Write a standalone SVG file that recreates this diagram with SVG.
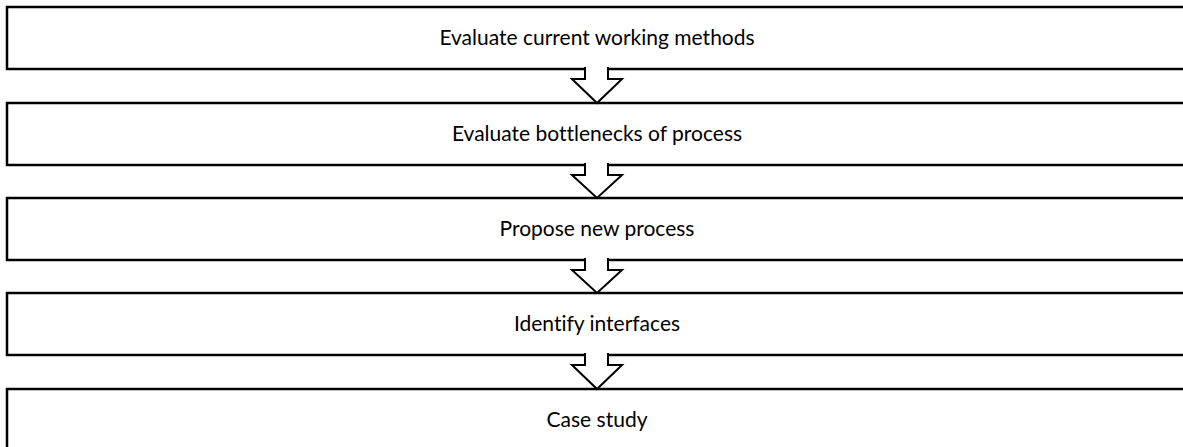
<svg xmlns="http://www.w3.org/2000/svg" width="1183" height="447" viewBox="0 0 1183 447">
  <style>
    .box { fill: #ffffff; stroke: #000000; stroke-width: 2.5; }
    .label { font-family: Lato, "Open Sans", "Liberation Sans", sans-serif; font-size: 21px; fill: #000000; text-anchor: middle; font-variant-ligatures: none; }
    .flow { fill: #ffffff; stroke: #000000; stroke-width: 2; stroke-linejoin: miter; }
  </style>
  <rect width="1183" height="447" fill="#ffffff"/>

  <!-- process steps -->
  <g id="step-evaluate-methods">
    <rect class="box" x="7" y="7" width="1200" height="62"/>
    <text class="label" x="597" y="45">Evaluate current working methods</text>
  </g>
  <g id="step-evaluate-bottlenecks">
    <rect class="box" x="7" y="103" width="1200" height="62"/>
    <text class="label" x="597" y="141">Evaluate bottlenecks of process</text>
  </g>
  <g id="step-propose-process">
    <rect class="box" x="7" y="198" width="1200" height="62"/>
    <text class="label" x="597" y="236">Propose new process</text>
  </g>
  <g id="step-identify-interfaces">
    <rect class="box" x="7" y="293" width="1200" height="62"/>
    <text class="label" x="597" y="331">Identify interfaces</text>
  </g>
  <g id="step-case-study">
    <rect class="box" x="7" y="389" width="1200" height="62"/>
    <text class="label" x="597" y="427">Case study</text>
  </g>

  <!-- block arrows between steps -->
  <g id="connectors">
    <path class="flow" d="M585,67 V79 H572 L597,103 L622,79 H608 V67"/>
    <path class="flow" d="M585,163 V175 H572 L597,198 L622,175 H608 V163"/>
    <path class="flow" d="M585,258 V270 H572 L597,293 L622,270 H608 V258"/>
    <path class="flow" d="M585,353 V365 H572 L597,389 L622,365 H608 V353"/>
  </g>
</svg>
